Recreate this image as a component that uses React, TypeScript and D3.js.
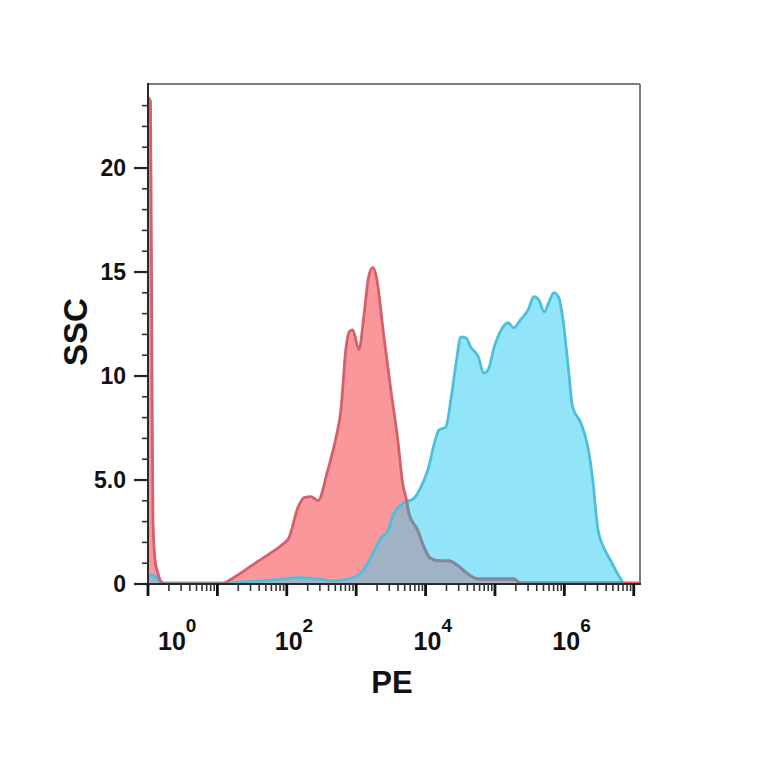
import React from "react";
import * as d3 from "d3";

// PE positions are read as log10(PE); counts are SSC axis values
const redLogPE = [0, 0.036, 0.058, 0.072, 0.1, 0.144, 0.19, 0.26, 1.05, 1.2, 1.53, 1.77, 1.95, 2.03, 2.16, 2.25, 2.35, 2.45, 2.59, 2.71, 2.78, 2.85, 2.9, 2.95, 3.04, 3.11, 3.18, 3.24, 3.29, 3.4, 3.5, 3.6, 3.67, 3.72, 3.76, 3.89, 3.98, 4.08, 4.22, 4.34, 4.47, 4.61, 4.76, 5.27, 5.37, 7.12];
const redCount = [23.4, 23.2, 10, 3, 1.2, 0.5, 0.1, 0, 0, 0.24, 0.97, 1.5, 1.93, 2.22, 3.67, 4.15, 4.2, 4.01, 5.46, 7.05, 8.36, 11.26, 12.13, 12.22, 11.26, 12.85, 14.78, 15.22, 14.78, 11.88, 9.32, 6.91, 4.83, 4.11, 3.38, 2.56, 1.74, 1.21, 1.11, 1.11, 0.87, 0.48, 0.24, 0.24, 0.05, 0.05];

const blueLogPE = [0, 0.04, 0.12, 0.16, 0.22, 1.0, 1.8, 2.2, 2.5, 2.64, 2.88, 3.07, 3.26, 3.36, 3.46, 3.54, 3.69, 3.83, 3.93, 4.03, 4.15, 4.19, 4.29, 4.37, 4.44, 4.51, 4.58, 4.65, 4.76, 4.84, 4.9, 4.99, 5.09, 5.19, 5.27, 5.37, 5.48, 5.56, 5.63, 5.71, 5.78, 5.85, 5.92, 5.98, 6.05, 6.12, 6.24, 6.34, 6.41, 6.48, 6.57, 6.67, 6.77, 6.86, 7.0, 7.12];
const blueCount = [0.39, 0.43, 0.34, 0.14, 0.05, 0.05, 0.2, 0.3, 0.22, 0.15, 0.24, 0.53, 1.59, 2.22, 2.56, 3.38, 3.91, 4.11, 4.64, 5.46, 7.05, 7.39, 7.54, 8.99, 10.63, 11.88, 11.84, 11.4, 10.92, 10.14, 10.29, 11.4, 12.22, 12.56, 12.32, 12.71, 13.19, 13.82, 13.67, 13.09, 13.57, 14.01, 13.77, 12.71, 10.63, 8.5, 7.73, 6.57, 4.98, 2.71, 1.74, 1.11, 0.48, 0.05, 0, 0];

const xMajorExps = [0, 1, 2, 3, 4, 5, 6, 7];
const xLabelExps = [0, 2, 4, 6];
const yMajorTicks = [0, 5, 10, 15, 20];
const yTickLabels = ["0", "5.0", "10", "15", "20"];
const yMinorTicks = [1, 2, 3, 4, 6, 7, 8, 9, 11, 12, 13, 14, 16, 17, 18, 19, 21, 22, 23];

const W = 764, H = 764;
const L = 148, R = 640, T = 84, B = 584;
const FONT = "'Liberation Sans', Arial, Helvetica, sans-serif";

export default function App() {
  const x = d3.scaleLog().domain([1, Math.pow(10, 7.09)]).range([L, R]);
  const y = d3.scaleLinear().domain([0, 24.04]).range([B, T]);

  const red = redLogPE.map((e, i) => ({ pe: Math.pow(10, e), c: redCount[i] }));
  const blue = blueLogPE.map((e, i) => ({ pe: Math.pow(10, e), c: blueCount[i] }));

  const area = d3.area<{ pe: number; c: number }>()
    .x(d => Math.min(x(d.pe), R))
    .y0(B)
    .y1(d => y(d.c))
    .curve(d3.curveMonotoneX);
  const line = d3.line<{ pe: number; c: number }>()
    .x(d => Math.min(x(d.pe), R))
    .y(d => y(d.c))
    .curve(d3.curveMonotoneX);

  const redArea = area(red) || "";
  const blueArea = area(blue) || "";
  const redLine = line(red) || "";
  const blueLine = line(blue) || "";

  const minorX: number[] = [];
  for (let e = 0; e < 8; e++) {
    for (let k = 2; k <= 9; k++) {
      const v = k * Math.pow(10, e);
      if (x(v) <= R) minorX.push(v);
    }
  }

  return (
    <svg width={W} height={H} style={{ position: "absolute", left: 0, top: 0, background: "#fff" }}>
      <defs>
        <clipPath id="plotClip">
          <rect x={L} y={T - 2} width={R - L} height={B - T + 2} />
        </clipPath>
        <clipPath id="blueClip">
          <path d={blueArea} />
        </clipPath>
      </defs>
      <g clipPath="url(#plotClip)">
        <path d={blueArea} fill="#92e4f9" />
        <path d={redArea} fill="#f9979b" />
        <path d={redArea} fill="#a0b3c6" clipPath="url(#blueClip)" />
        <path d={blueLine} fill="none" stroke="#4cc0da" strokeWidth={2.8} strokeLinejoin="round" />
        <path d={redLine} fill="none" stroke="#d5606b" strokeWidth={2.8} strokeLinejoin="round" />
        <g clipPath="url(#blueClip)">
          <path d={redLine} fill="none" stroke="#7b8ca0" strokeWidth={2.8} strokeLinejoin="round" />
        </g>
      </g>
      {/* frame */}
      <line x1={L} x2={R} y1={T} y2={T} stroke="#7a7a7a" strokeWidth={2} />
      <line x1={R} x2={R} y1={T} y2={B} stroke="#7a7a7a" strokeWidth={2} />
      <line x1={L} x2={L} y1={T - 1} y2={B + 1} stroke="#2a2a2a" strokeWidth={2} />
      <line x1={L - 1} x2={R + 1} y1={B} y2={B} stroke="#2a2a2a" strokeWidth={2} />
      {/* y ticks */}
      {yMajorTicks.map(t => (
        <line key={"ym" + t} x1={L - 14} x2={L} y1={y(t)} y2={y(t)} stroke="#222" strokeWidth={2.2} />
      ))}
      {yMinorTicks.map(t => (
        <line key={"yn" + t} x1={L - 6} x2={L} y1={y(t)} y2={y(t)} stroke="#333" strokeWidth={1.6} />
      ))}
      {yMajorTicks.map((t, i) => (
        <text key={"yl" + t} x={126} y={y(t)} dy="0.36em" textAnchor="end" fontFamily={FONT}
          fontWeight="bold" fontSize={23} fill="#111">{yTickLabels[i]}</text>
      ))}
      {/* x ticks */}
      {xMajorExps.map(e => (
        <line key={"xm" + e} x1={x(Math.pow(10, e))} x2={x(Math.pow(10, e))} y1={B} y2={B + 12}
          stroke="#111" strokeWidth={2.8} />
      ))}
      {minorX.map((v, i) => (
        <line key={"xn" + i} x1={x(v)} x2={x(v)} y1={B} y2={B + 7} stroke="#333" strokeWidth={1.6} />
      ))}
      {xLabelExps.map(e => {
        const px = Math.max(x(Math.pow(10, e)) - 12, L + 10);
        return (
          <text key={"xl" + e} x={px} y={650} fontFamily={FONT} fontWeight="bold" fontSize={25} fill="#111">
            10<tspan dy={-18} fontSize={19}>{e}</tspan>
          </text>
        );
      })}
      <text x={392} y={693} textAnchor="middle" fontFamily={FONT} fontWeight="bold" fontSize={31} fill="#111">PE</text>
      <text transform={`translate(87,332) rotate(-90)`} textAnchor="middle" fontFamily={FONT}
        fontWeight="bold" fontSize={33} fill="#111">SSC</text>
    </svg>
  );
}
